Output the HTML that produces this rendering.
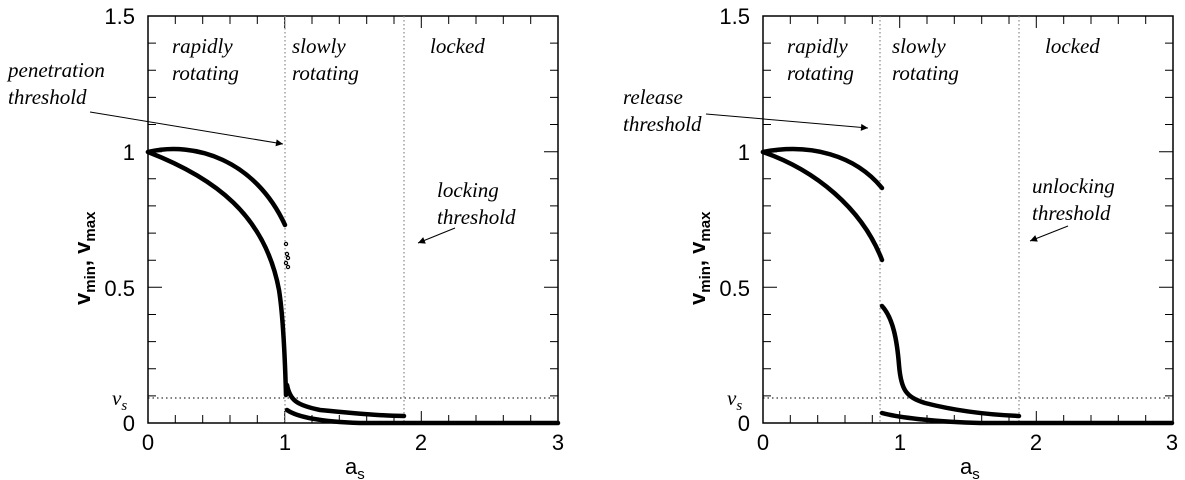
<!DOCTYPE html>
<html><head><style>
html,body{margin:0;padding:0;background:#fff;}
svg{display:block;}
.t{font-family:"Liberation Sans",sans-serif;font-size:22px;fill:#000;}
.a{font-family:"Liberation Serif",serif;font-style:italic;font-size:21px;fill:#000;}
.c{fill:none;stroke:#000;stroke-width:4.5;stroke-linecap:round;}
</style></head><body>
<svg width="1185" height="480" viewBox="0 0 1185 480" xmlns="http://www.w3.org/2000/svg">
<defs>
<marker id="ar" viewBox="0 0 10 10" refX="10" refY="5" markerWidth="9" markerHeight="7" orient="auto" markerUnits="userSpaceOnUse"><path d="M0,0 L10,5 L0,10 z"/></marker>
<g id="ticks" stroke="#000" stroke-width="1">
<path d="M27.3,407 v-8 M54.7,407 v-8 M82,407 v-8 M109.3,407 v-8 M136.7,407 v-12 M164,407 v-8 M191.3,407 v-8 M218.7,407 v-8 M246,407 v-8 M273.3,407 v-12 M300.7,407 v-8 M328,407 v-8 M355.3,407 v-8 M382.7,407 v-8
M27.3,0 v8 M54.7,0 v8 M82,0 v8 M109.3,0 v8 M136.7,0 v12 M164,0 v8 M191.3,0 v8 M218.7,0 v8 M246,0 v8 M273.3,0 v12 M300.7,0 v8 M328,0 v8 M355.3,0 v8 M382.7,0 v8"/>
<path d="M0,379.9 h8 M0,352.8 h8 M0,325.6 h8 M0,298.5 h8 M0,271.3 h14 M0,244.2 h8 M0,217.1 h8 M0,189.9 h8 M0,162.8 h8 M0,135.7 h14 M0,108.5 h8 M0,81.4 h8 M0,54.3 h8 M0,27.1 h8
M410,379.9 h-8 M410,352.8 h-8 M410,325.6 h-8 M410,298.5 h-8 M410,271.3 h-14 M410,244.2 h-8 M410,217.1 h-8 M410,189.9 h-8 M410,162.8 h-8 M410,135.7 h-14 M410,108.5 h-8 M410,81.4 h-8 M410,54.3 h-8 M410,27.1 h-8"/>
<rect x="0" y="0" width="410" height="407" fill="none" stroke-width="1.5"/>
</g>
</defs>

<!-- LEFT PANEL -->
<use href="#ticks" x="148" y="16"/>
<g class="t">
<text x="135" y="24" text-anchor="end">1.5</text>
<text x="135" y="160" text-anchor="end">1</text>
<text x="135" y="296" text-anchor="end">0.5</text>
<text x="135" y="431" text-anchor="end">0</text>
<text x="148" y="450" text-anchor="middle">0</text>
<text x="285" y="450" text-anchor="middle">1</text>
<text x="421" y="450" text-anchor="middle">2</text>
<text x="558" y="450" text-anchor="middle">3</text>
<text x="345" y="474">a<tspan font-size="15" dy="5">s</tspan></text>
</g>
<text class="t" transform="translate(90,305) rotate(-90)" font-weight="bold" font-size="21">v<tspan font-size="15" dy="5">min</tspan><tspan dy="-5">,  v</tspan><tspan font-size="15" dy="5">max</tspan></text>
<text class="a" x="112" y="405" fill="#444" font-size="24">v<tspan font-size="15" dy="5">s</tspan></text>
<line x1="148" y1="398" x2="558" y2="398" stroke="#000" stroke-width="1" stroke-dasharray="1.5,3"/>
<line x1="285" y1="16" x2="285" y2="423" stroke="#888" stroke-width="1.2" stroke-dasharray="1.5,2.5"/>
<line x1="404" y1="16" x2="404" y2="423" stroke="#888" stroke-width="1.2" stroke-dasharray="1.5,2.5"/>
<g class="a">
<text x="172" y="53">rapidly</text><text x="172" y="80">rotating</text>
<text x="292" y="53">slowly</text><text x="292" y="80">rotating</text>
<text x="430" y="53">locked</text>
<text x="8" y="77">penetration</text><text x="8" y="104">threshold</text>
<text x="437" y="197">locking</text><text x="437" y="224">threshold</text>
</g>
<line x1="90" y1="112" x2="283" y2="144" stroke="#000" stroke-width="1" marker-end="url(#ar)"/>
<line x1="455" y1="228" x2="418" y2="243" stroke="#000" stroke-width="1" marker-end="url(#ar)"/>
<path class="c" d="M148,152 C195,141 255,160 285,225"/>
<path class="c" d="M148,152 C215,178 265,215 279,290 C283,315 285,360 286,395"/>
<path class="c" d="M287,385 C290,400 296,405 320,410 C360,414 385,416 404,416"/>
<path class="c" d="M287,410 C300,419 330,422 360,423 L558,423"/>
<g fill="none" stroke="#000" stroke-width="1.2">
<circle cx="286" cy="244" r="1.6"/><circle cx="287" cy="254" r="1.6"/><circle cx="288" cy="258" r="1.6"/><circle cx="286" cy="263" r="1.6"/><circle cx="288" cy="267" r="1.6"/>
</g>

<!-- RIGHT PANEL -->
<use href="#ticks" x="763" y="16"/>
<g class="t">
<text x="750" y="24" text-anchor="end">1.5</text>
<text x="750" y="160" text-anchor="end">1</text>
<text x="750" y="296" text-anchor="end">0.5</text>
<text x="750" y="431" text-anchor="end">0</text>
<text x="763" y="450" text-anchor="middle">0</text>
<text x="900" y="450" text-anchor="middle">1</text>
<text x="1036" y="450" text-anchor="middle">2</text>
<text x="1172" y="450" text-anchor="middle">3</text>
<text x="960" y="474">a<tspan font-size="15" dy="5">s</tspan></text>
</g>
<text class="t" transform="translate(705,305) rotate(-90)" font-weight="bold" font-size="21">v<tspan font-size="15" dy="5">min</tspan><tspan dy="-5">,  v</tspan><tspan font-size="15" dy="5">max</tspan></text>
<text class="a" x="727" y="405" fill="#444" font-size="24">v<tspan font-size="15" dy="5">s</tspan></text>
<line x1="763" y1="398" x2="1172" y2="398" stroke="#000" stroke-width="1" stroke-dasharray="1.5,3"/>
<line x1="880" y1="16" x2="880" y2="423" stroke="#888" stroke-width="1.2" stroke-dasharray="1.5,2.5"/>
<line x1="1019" y1="16" x2="1019" y2="423" stroke="#888" stroke-width="1.2" stroke-dasharray="1.5,2.5"/>
<g class="a">
<text x="787" y="53">rapidly</text><text x="787" y="80">rotating</text>
<text x="892" y="53">slowly</text><text x="892" y="80">rotating</text>
<text x="1045" y="53">locked</text>
<text x="623" y="104">release</text><text x="623" y="131">threshold</text>
<text x="1032" y="193">unlocking</text><text x="1032" y="220">threshold</text>
</g>
<line x1="706" y1="114" x2="868" y2="128" stroke="#000" stroke-width="1" marker-end="url(#ar)"/>
<line x1="1068" y1="226" x2="1030" y2="241" stroke="#000" stroke-width="1" marker-end="url(#ar)"/>
<path class="c" d="M763,152 C810,143 855,155 882,188"/>
<path class="c" d="M763,152 C815,170 862,208 882,260"/>
<path class="c" d="M882,306 C893,318 897,340 899,365 C901,390 906,397 925,403 C960,412 995,415 1019,416"/>
<path class="c" d="M882,413 C900,418 940,422 980,423 L1172,423"/>
</svg>
</body></html>
